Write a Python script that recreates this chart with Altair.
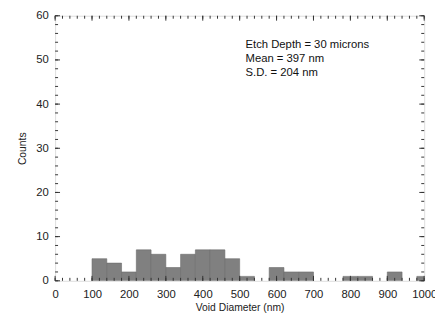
import altair as alt
import pandas as pd

bin_start = [100, 140, 180, 220, 260, 300, 340, 380, 420, 460, 500, 580, 620, 660, 780, 820, 900, 980]
bin_end   = [140, 180, 220, 260, 300, 340, 380, 420, 460, 500, 540, 620, 660, 700, 820, 860, 940, 1000]
counts    = [5, 4, 2, 7, 6, 3, 6, 7, 7, 5, 1, 3, 2, 2, 1, 1, 2, 1]

x_major = list(range(0, 1001, 100))
x_minor = list(range(0, 1001, 20))
y_major = list(range(0, 61, 10))
y_minor = list(range(0, 61, 2))

notes = ["Etch Depth = 30 microns", "Mean = 397 nm", "S.D. = 204 nm"]

W, H = 376, 270
FONT = "Liberation Sans"

bars_df = pd.DataFrame({"start": bin_start, "end": bin_end, "count": counts})
xs = alt.Scale(domain=[0, 1000], nice=False)
ys = alt.Scale(domain=[0, 60], nice=False)

x_axis = alt.Axis(values=x_major, ticks=False, domain=False, grid=False, format="d",
                  labelOverlap=False, labelBound=False,
                  title="Void Diameter (nm)", labelFont=FONT, titleFont=FONT,
                  labelFontSize=11.5, titleFontSize=10.5, labelColor="#222",
                  titleColor="#222", titleFontWeight="normal", labelPadding=8,
                  titlePadding=3, labelFlush=False)
y_axis = alt.Axis(values=y_major, ticks=False, domain=False, grid=False,
                  labelOverlap=False, labelBound=False,
                  title="Counts", labelFont=FONT, titleFont=FONT,
                  labelFontSize=11.5, titleFontSize=10.5, labelColor="#222",
                  titleColor="#222", titleFontWeight="normal", labelPadding=7,
                  titlePadding=8)

bars = alt.Chart(bars_df).mark_rect(color="#808080", stroke="#6a6a6a", strokeWidth=0.6, clip=True).encode(
    x=alt.X("start:Q", scale=xs, axis=x_axis),
    x2="end:Q",
    y=alt.Y("count:Q", scale=ys, axis=y_axis),
    y2=alt.datum(0),
)

def xticks(vals, length, top):
    df = pd.DataFrame({"v": vals})
    if top:
        y1, y2 = alt.value(0), alt.value(length)
    else:
        y1, y2 = alt.value(H), alt.value(H - length)
    return alt.Chart(df).mark_rule(color="#333", strokeWidth=1).encode(
        x=alt.X("v:Q", scale=xs, axis=x_axis), y=y1, y2=y2)

def yticks(vals, length, right):
    df = pd.DataFrame({"v": vals})
    if right:
        x1, x2 = alt.value(W), alt.value(W - length)
    else:
        x1, x2 = alt.value(0), alt.value(length)
    return alt.Chart(df).mark_rule(color="#333", strokeWidth=1).encode(
        y=alt.Y("v:Q", scale=ys, axis=y_axis), x=x1, x2=x2)

ticks = [
    xticks(x_minor, 3, False), xticks(x_major, 5, False),
    xticks(x_minor, 3, True), xticks(x_major, 5, True),
    yticks(y_minor, 3, False), yticks(y_major, 5, False),
    yticks(y_minor, 3, True), yticks(y_major, 5, True),
]

text = alt.Chart(pd.DataFrame({"t": ["\n".join(notes)]})).mark_text(
    align="left", baseline="middle", font=FONT, fontSize=11.5, color="#111",
    lineBreak="\n", lineHeight=14).encode(
    x=alt.value(194),
    y=alt.value(30),
    text="t:N",
)

chart = alt.layer(bars, *ticks, text).properties(
    width=W, height=H,
    autosize=alt.AutoSizeParams(type="none"),
    padding={"left": 48, "top": 5, "right": 11, "bottom": 35},
).configure_view(stroke="#333", strokeWidth=1).configure(background="white")

chart.save("out.html", embed_options={"renderer": "svg", "actions": False})
